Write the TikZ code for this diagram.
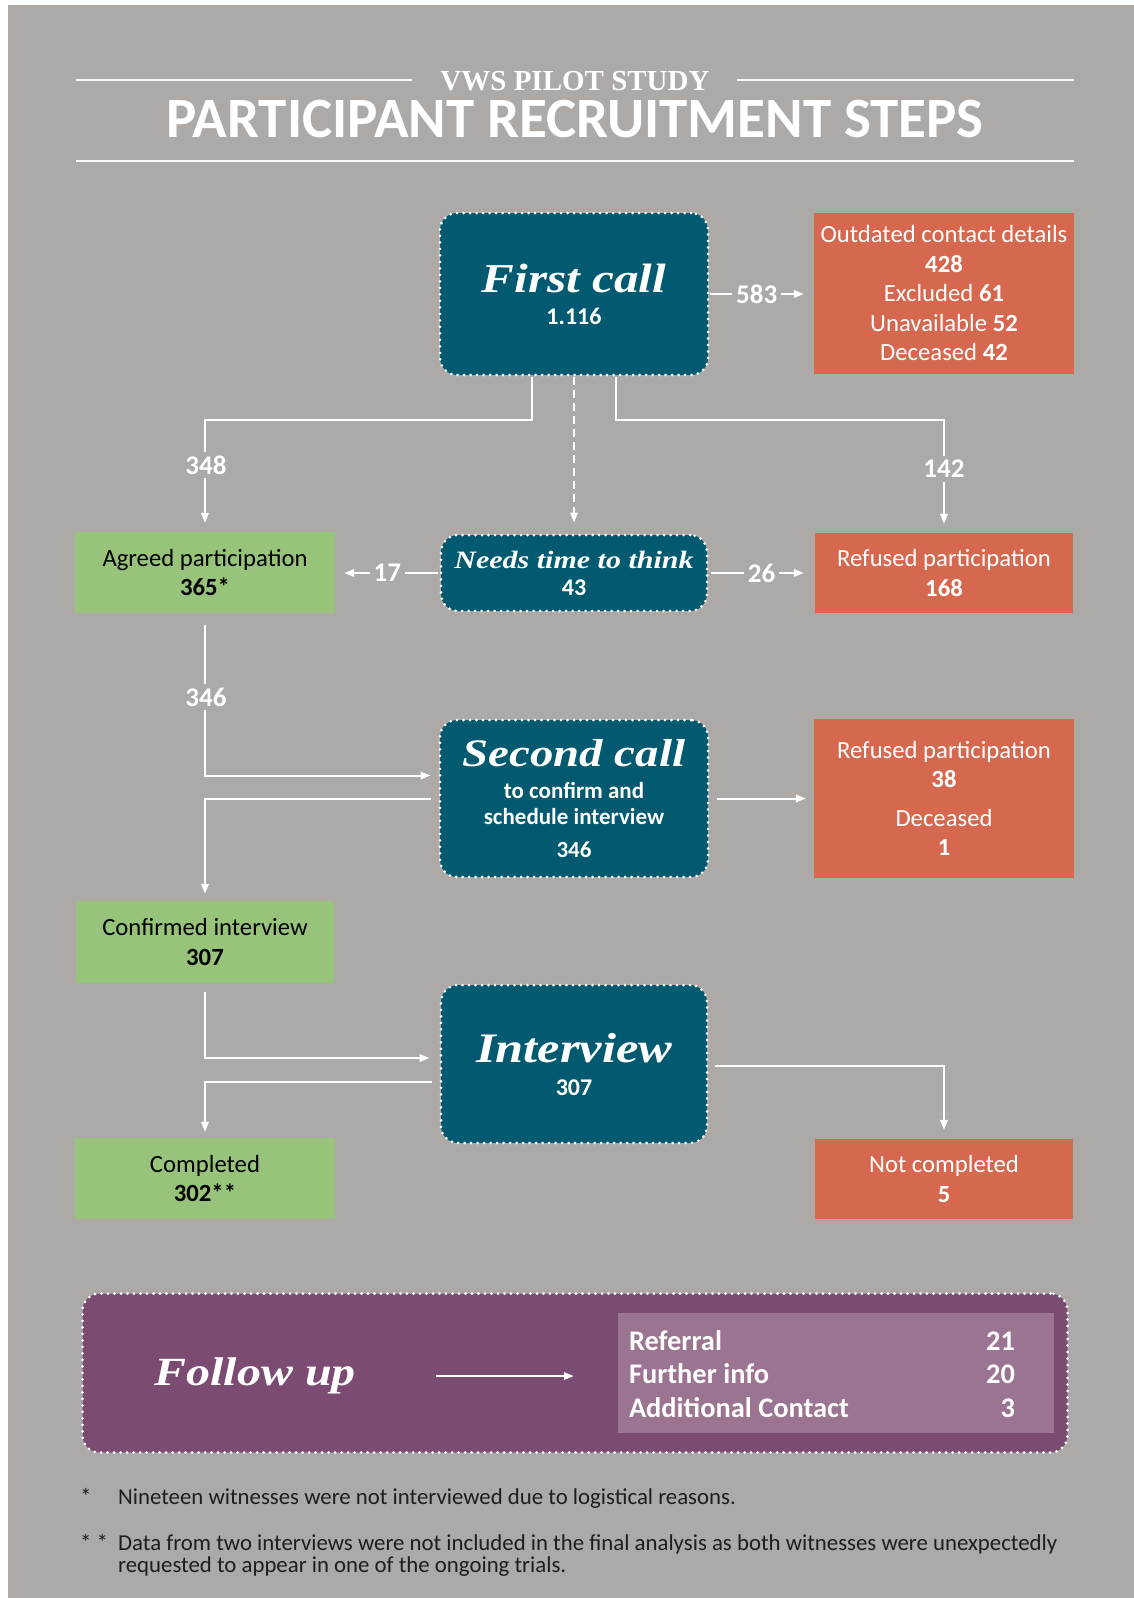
\documentclass[tikz,border=0pt]{standalone}
\usepackage{fontspec}
\setmainfont{Carlito}
\newfontfamily\stepf[FakeStretch=1.2]{Liberation Serif}
\newfontfamily\ttlserif{Liberation Serif}
\usetikzlibrary{arrows.meta,calc}
\definecolor{bgc}{HTML}{ACA9A6}
\definecolor{stepteal}{HTML}{015A70}
\definecolor{orng}{HTML}{D5684F}
\definecolor{grn}{HTML}{97C47A}
\definecolor{purp}{HTML}{7B4B72}
\definecolor{lpurp}{HTML}{9A7490}
\definecolor{footc}{HTML}{1E1E1E}
\tikzset{
  stepbox/.style={fill=stepteal, draw=white, line width=3pt, dash pattern=on 0pt off 6.5pt, line cap=round,
    rounded corners=17pt, text=white, align=center, inner sep=0pt},
  obox/.style={fill=orng, text=white, align=center, inner sep=0pt, font=\fontsize{24.7}{29.5}\selectfont},
  gbox/.style={fill=grn, text=black, align=center, inner sep=0pt, font=\fontsize{24.7}{29.5}\selectfont},
  conn/.style={draw=white, line width=2pt, -{Triangle[length=10pt,width=7.5pt]}},
  lbl/.style={fill=bgc, text=white, inner sep=4pt, font=\bfseries\fontsize{27}{27}\selectfont},
  rule/.style={draw=white!95!gray, line width=2pt},
  foot/.style={text=footc, anchor=base west, inner sep=0pt, font=\fontsize{22.8}{22}\selectfont}
}
\begin{document}
\begin{tikzpicture}[x=1pt,y=-1pt]
\fill[white] (0,0) rectangle (1134,1598);
\fill[bgc] (8,5) rectangle (1134,1598);
\useasboundingbox (0,0) rectangle (1134,1598);

% title
\node[anchor=base, text=white, inner sep=0pt, font=\ttlserif\bfseries\fontsize{29}{29}\selectfont] (sub) at (575,90) {VWS PILOT STUDY};
\node[anchor=base, text=white, inner sep=0pt, font=\bfseries\fontsize{57}{57}\selectfont] (ttl) at (575,137) {PARTICIPANT RECRUITMENT STEPS};
\draw[rule] (76,80) -- (412,80);
\draw[rule] (737,80) -- (1074,80);
\draw[rule] (76,161) -- (1074,161);

% boxes
\node[stepbox, minimum width=268pt, minimum height=162pt, font=\bfseries\fontsize{24}{30}\selectfont] (fc) at (574,294)
  {{\stepf\bfseries\itshape\fontsize{41}{41}\selectfont First call}\\[2pt]1.116};
\node[obox, minimum width=260pt, minimum height=161pt] (out) at (944,293.5)
  {Outdated contact details\\\textbf{428}\\Excluded \textbf{61}\\Unavailable \textbf{52}\\Deceased \textbf{42}};

\node[gbox, minimum width=260pt, minimum height=81pt] (agr) at (205,572.5)
  {Agreed participation\\\textbf{365*}};
\node[stepbox, minimum width=266pt, minimum height=76pt, font=\bfseries\fontsize{24}{27}\selectfont] (think) at (574,573)
  {{\stepf\bfseries\itshape\fontsize{25}{25}\selectfont Needs time to think}\\43};
\node[obox, minimum width=258pt, minimum height=80pt] (ref1) at (944,573)
  {Refused participation\\\textbf{168}};

\node[stepbox, minimum width=268pt, minimum height=157pt, font=\bfseries\fontsize{23}{26}\selectfont] (sc) at (574,798.5)
  {{\stepf\bfseries\itshape\fontsize{39}{39}\selectfont Second call}\\[6pt]to confirm and\\schedule interview\\[7pt]346};
\node[obox, minimum width=260pt, minimum height=159pt] (ref2) at (944,798.5)
  {Refused participation\\\textbf{38}\\[9pt]Deceased\\\textbf{1}};

\node[gbox, minimum width=258pt, minimum height=82pt] (conf) at (205,942)
  {Confirmed interview\\\textbf{307}};
\node[stepbox, minimum width=266pt, minimum height=158pt, font=\bfseries\fontsize{24}{30}\selectfont] (iv) at (574,1064)
  {{\stepf\bfseries\itshape\fontsize{42}{42}\selectfont Interview}\\[3pt]307};
\node[gbox, minimum width=260pt, minimum height=81pt] (comp) at (205,1178.5)
  {Completed\\\textbf{302**}};
\node[obox, minimum width=258pt, minimum height=80pt] (notc) at (944,1179)
  {Not completed\\\textbf{5}};

% connectors
\draw[conn] (fc.east) -- ([xshift=-10pt]fc.east -| out.west) node[lbl, midway] (l583) {583};
\draw[conn, shorten >=9pt] ([xshift=-42pt]fc.south) -- ++(0,43) -| (agr.north);
\draw[conn, shorten >=9pt] ([xshift=42pt]fc.south) -- ++(0,43) -| (ref1.north);
\draw[conn, dash pattern=on 8pt off 5pt, shorten >=11pt] (fc.south) -- (think.north);
\draw[conn, shorten <=2pt, shorten >=9pt] (think.west) -- (think.west -| agr.east) node[lbl, midway] (l17) {17};
\draw[conn, shorten <=2pt, shorten >=11pt] (think.east) -- (think.east -| ref1.west) node[lbl, midway] (l26) {26};
\node[lbl] (l348) at (206,465) {348};
\node[lbl] (l142) at (944,469) {142};

\draw[conn, shorten <=12pt, shorten >=8pt] (agr.south) |- ([yshift=23pt]sc.west);
\node[lbl] (l346) at (206,697) {346};
\draw[conn, shorten <=8pt, shorten >=7pt] (sc.west) -| (conf.north);
\draw[conn, shorten <=7pt, shorten >=8pt] (sc.east) -- (sc.east -| ref2.west);

\draw[conn, shorten <=9pt, shorten >=10pt] (conf.south) |- ([yshift=6pt]iv.west);
\draw[conn, shorten <=8pt, shorten >=6pt] ([yshift=-18pt]iv.west) -| (comp.north);
\draw[conn, shorten <=6pt, shorten >=9pt] ([yshift=-2pt]iv.east) -| (notc.north);

% follow up
\node[stepbox, fill=purp, minimum width=985pt, minimum height=159pt] (fu) at (575,1373) {};
\node[fill=lpurp, minimum width=436pt, minimum height=120pt, inner sep=0pt] (fubg) at (836,1373) {};
\node[text=white, inner sep=0pt, font=\stepf\bfseries\itshape\fontsize{40}{40}\selectfont] (futext) at (255,1376) {Follow up};
\node[text=white, inner sep=0pt, font=\bfseries\fontsize{28.4}{33.5}\selectfont] (futab) at (822,1377)
  {\begin{tabular*}{386pt}{@{}l@{\extracolsep{\fill}}r@{}}Referral & 21\\Further info & 20\\Additional Contact & 3\end{tabular*}};
\draw[conn, shorten <=80pt, shorten >=44pt] (futext.east) -- (futext.east -| fubg.west);

% footnotes
\node[foot] (s1) at (80,1504) {*};
\node[foot] (f1) at (118,1504) {Nineteen witnesses were not interviewed due to logistical reasons.};
\node[foot] (s2) at (80,1550) {* *};
\node[foot] (f2) at (118,1550) {Data from two interviews were not included in the final analysis as both witnesses were unexpectedly};
\node[foot] (f3) at (118,1572) {requested to appear in one of the ongoing trials.};
\end{tikzpicture}
\end{document}
